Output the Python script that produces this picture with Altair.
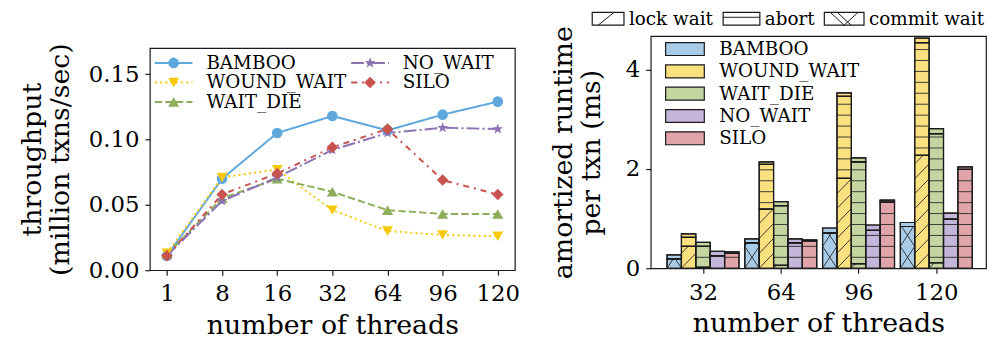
import math
import altair as alt
import pandas as pd

FONT = "DejaVu Serif"

# ---------------- data ----------------
threads = ["1", "8", "16", "32", "64", "96", "120"]
series = ["BAMBOO", "WOUND_WAIT", "WAIT_DIE", "NO_WAIT", "SILO"]
tput_bamboo = [0.011, 0.070, 0.105, 0.118, 0.107, 0.119, 0.129]
tput_wound_wait = [0.013, 0.071, 0.077, 0.046, 0.030, 0.027, 0.026]
tput_wait_die = [0.012, 0.055, 0.070, 0.060, 0.046, 0.043, 0.043]
tput_no_wait = [0.011, 0.053, 0.071, 0.092, 0.105, 0.109, 0.108]
tput_silo = [0.011, 0.058, 0.074, 0.094, 0.108, 0.069, 0.058]

bar_threads = ["32", "64", "96", "120"]
components = ["lock wait", "commit wait", "abort", "other"]
legend_patterns = ["lock wait", "abort", "commit wait"]
# runtime breakdown (ms) per txn
bamboo_lock = [0.0, 0.0, 0.0, 0.0]
bamboo_commit = [0.19, 0.51, 0.71, 0.84]
bamboo_abort = [0.0, 0.0, 0.0, 0.0]
bamboo_other = [0.08, 0.08, 0.10, 0.08]
ww_lock = [0.44, 1.19, 1.81, 2.27]
ww_commit = [0.0, 0.0, 0.0, 0.0]
ww_abort = [0.18, 0.90, 1.65, 2.27]
ww_other = [0.07, 0.05, 0.07, 0.09]
wd_lock = [0.02, 0.06, 0.09, 0.11]
wd_commit = [0.0, 0.0, 0.0, 0.0]
wd_abort = [0.42, 1.20, 2.05, 2.60]
wd_other = [0.08, 0.08, 0.08, 0.10]
nw_lock = [0.0, 0.0, 0.0, 0.0]
nw_commit = [0.0, 0.0, 0.0, 0.0]
nw_abort = [0.25, 0.51, 0.76, 0.99]
nw_other = [0.09, 0.08, 0.11, 0.12]
silo_lock = [0.0, 0.0, 0.0, 0.0]
silo_commit = [0.0, 0.0, 0.0, 0.0]
silo_abort = [0.30, 0.55, 1.33, 1.99]
silo_other = [0.03, 0.02, 0.04, 0.05]

# ---------------- styles ----------------
line_colors = ["#5fa8dc", "#f7c90a", "#8dae5b", "#8c72b3", "#c8534f"]
bar_colors = ["#a8cce8", "#fbe07f", "#c4d5a2", "#c4b5da", "#e1a4a8"]
dashes = [[1, 0], [2, 3.3], [7.4, 3.2], [12.8, 3.2, 2, 3.2], [6, 5, 2, 5]]
STAR = ("M0,-1L0.235,-0.324L0.951,-0.309L0.380,0.124L0.588,0.809L0,0.4"
        "L-0.588,0.809L-0.380,0.124L-0.951,-0.309L-0.235,-0.324Z")
shapes = ["circle", "triangle-down", "triangle-up", STAR, "diamond"]
sizes = [115, 135, 135, 160, 175]

TICK_FS = 23
TITLE_FS = 27
LEG_FS = 18.5

color_l = alt.Scale(domain=series, range=line_colors)
color_b = alt.Scale(domain=series, range=bar_colors)
dash_s = alt.Scale(domain=series, range=dashes)
shape_s = alt.Scale(domain=series, range=shapes)
size_s = alt.Scale(domain=series, range=sizes)

# ---------------- left chart ----------------
tput = {"BAMBOO": tput_bamboo, "WOUND_WAIT": tput_wound_wait, "WAIT_DIE": tput_wait_die,
        "NO_WAIT": tput_no_wait, "SILO": tput_silo}
rows = []
for s in series:
    for t, v in zip(threads, tput[s]):
        rows.append({"series": s, "threads": t, "tput": v})
df_l = pd.DataFrame(rows)

LW, LH = 368, 224
xs_l = alt.Scale(domain=threads, type="point", padding=0.31)
ys_l = alt.Scale(domain=[0, 0.17], nice=False, zero=False)

x_l = alt.X("threads:N", scale=xs_l, sort=threads,
            axis=alt.Axis(title="number of threads", labelAngle=0, labelPadding=8, titlePadding=7))
y_l = alt.Y("tput:Q", scale=ys_l,
            axis=alt.Axis(title=["throughput", "(million txns/sec)"], values=[0, 0.05, 0.10, 0.15],
                          format=".2f", labelPadding=6, titlePadding=14, titleLineHeight=28))

lines = alt.Chart(df_l).mark_line(strokeWidth=2).encode(
    x=x_l, y=y_l,
    color=alt.Color("series:N", scale=color_l, legend=None),
    strokeDash=alt.StrokeDash("series:N", scale=dash_s, legend=None),
    detail="series:N",
)
points = alt.Chart(df_l).mark_point(filled=True, opacity=1).encode(
    x=alt.X("threads:N", scale=xs_l, sort=threads),
    y=alt.Y("tput:Q", scale=ys_l),
    color=alt.Color("series:N", scale=color_l, legend=None),
    shape=alt.Shape("series:N", scale=shape_s, legend=None),
    size=alt.Size("series:N", scale=size_s, legend=None),
)

# in-plot legend (2 columns)
leg_rows = []
for i, s in enumerate(series):
    col, row = i // 3, i % 3
    base = 5 + col * 198
    leg_rows.append({"series": s, "lx1": base, "lx2": base + 38, "mx": base + 19,
                     "tx": base + 52, "ly": 15 + row * 19.7})
df_legl = pd.DataFrame(leg_rows)
leg_line = alt.Chart(df_legl).mark_rule(strokeWidth=2).encode(
    x=alt.X("lx1:Q", scale=None, axis=None), x2="lx2:Q",
    y=alt.Y("ly:Q", scale=None, axis=None),
    color=alt.Color("series:N", scale=color_l, legend=None),
    strokeDash=alt.StrokeDash("series:N", scale=dash_s, legend=None),
)
leg_pt = alt.Chart(df_legl).mark_point(filled=True, opacity=1).encode(
    x=alt.X("mx:Q", scale=None, axis=None), y=alt.Y("ly:Q", scale=None, axis=None),
    color=alt.Color("series:N", scale=color_l, legend=None),
    shape=alt.Shape("series:N", scale=shape_s, legend=None),
    size=alt.Size("series:N", scale=size_s, legend=None),
)
leg_txt = alt.Chart(df_legl).mark_text(align="left", baseline="middle", font=FONT,
                                       fontSize=LEG_FS, color="black").encode(
    x=alt.X("tx:Q", scale=None, axis=None), y=alt.Y("ly:Q", scale=None, axis=None),
    text="series:N",
)
# invisible extent marker fixing the horizontal bounds of the left panel
spacer_l = alt.Chart(df_legl).mark_rule(strokeOpacity=0, opacity=0).encode(
    x=alt.value(-142), x2=alt.value(LW + 30), y=alt.value(0))

left_main = alt.layer(lines, points, leg_line, leg_pt, leg_txt, spacer_l).properties(width=LW, height=LH)
top_gap = alt.Chart(df_legl).mark_rule(strokeOpacity=0, opacity=0).encode(
    x=alt.value(0), y=alt.value(0)).properties(
    width=LW, height=4, view=alt.ViewBackground(stroke="transparent"))
left = alt.vconcat(top_gap, left_main, spacing=0)

# ---------------- right chart ----------------
RW, RH = 338, 234
bar_w = 0.185
breakdown = {
    "BAMBOO": [bamboo_lock, bamboo_commit, bamboo_abort, bamboo_other],
    "WOUND_WAIT": [ww_lock, ww_commit, ww_abort, ww_other],
    "WAIT_DIE": [wd_lock, wd_commit, wd_abort, wd_other],
    "NO_WAIT": [nw_lock, nw_commit, nw_abort, nw_other],
    "SILO": [silo_lock, silo_commit, silo_abort, silo_other],
}


def diag(xl, xr, lo, hi, dy, step, kind):
    out = []
    k = math.floor((lo - dy) / step)
    while k * step < hi:
        yb = k * step
        t0 = max(0.0, (lo - yb) / dy)
        t1 = min(1.0, (hi - yb) / dy)
        if t1 > t0 + 1e-6:
            if kind == "/":
                out.append((xl + t0 * (xr - xl), yb + t0 * dy, xl + t1 * (xr - xl), yb + t1 * dy))
            else:
                out.append((xr - t0 * (xr - xl), yb + t0 * dy, xr - t1 * (xr - xl), yb + t1 * dy))
        k += 1
    return out


segs, hatch = [], []
for g, t in enumerate(bar_threads):
    for si, s in enumerate(series):
        xc = g + (si - 2) * bar_w
        xl, xr = xc - bar_w / 2, xc + bar_w / 2
        y0 = 0.0
        for ci, comp in enumerate(components):
            v = breakdown[s][ci][g]
            if v <= 0:
                continue
            y1 = y0 + v
            segs.append({"series": s, "comp": comp, "xl": xl, "xr": xr, "y0": y0, "y1": y1})
            if comp == "abort":
                k = 1
                while k * 0.22 < y1 - 0.03:
                    yy = k * 0.22
                    if yy > y0 + 0.03:
                        hatch.append({"x": xl, "x2": xr, "y": yy, "y2": yy})
                    k += 1
            elif comp == "lock wait":
                for a, b, c, d in diag(xl, xr, y0, y1, 0.30, 0.30, "/"):
                    hatch.append({"x": a, "x2": c, "y": b, "y2": d})
            elif comp == "commit wait":
                for kind in ["/", "\\"]:
                    for a, b, c, d in diag(xl, xr, y0, y1, 0.44, 0.44, kind):
                        hatch.append({"x": a, "x2": c, "y": b, "y2": d})
            y0 = y1
df_seg = pd.DataFrame(segs)
df_hatch = pd.DataFrame(hatch)

xs_r = alt.Scale(domain=[-0.672, 3.639], nice=False, zero=False)
ys_r = alt.Scale(domain=[0, 4.67], nice=False, zero=False)
label_expr = "[" + ",".join("'%s'" % t for t in bar_threads) + "][datum.value]"

bars = alt.Chart(df_seg).mark_rect(stroke="#1a1a1a", strokeWidth=1.2).encode(
    x=alt.X("xl:Q", scale=xs_r, axis=alt.Axis(title="number of threads", values=[0, 1, 2, 3],
                                                labelExpr=label_expr, labelPadding=9, titlePadding=6)),
    x2="xr:Q",
    y=alt.Y("y0:Q", scale=ys_r, axis=alt.Axis(title=["amortized runtime", "per txn (ms)"],
                                                values=[0, 2, 4], format="d", labelPadding=6,
                                                titlePadding=20, titleLineHeight=28)),
    y2="y1:Q",
    color=alt.Color("series:N", scale=color_b, legend=None),
)
hatch_l = alt.Chart(df_hatch).mark_rule(color="#2a2a2a", strokeWidth=0.9).encode(
    x=alt.X("x:Q", scale=xs_r), x2="x2:Q", y=alt.Y("y:Q", scale=ys_r), y2="y2:Q")
outline = alt.Chart(df_seg).mark_rect(fill="transparent", stroke="#1a1a1a", strokeWidth=1.2).encode(
    x=alt.X("xl:Q", scale=xs_r), x2="xr:Q", y=alt.Y("y0:Q", scale=ys_r), y2="y1:Q")

# inner series legend
df_legr = pd.DataFrame({"series": series,
                        "sx1": [15] * 5, "sx2": [54] * 5, "tx": [69] * 5,
                        "sy": [13 + i * 22.5 for i in range(5)]})
df_legr["sy1"] = df_legr["sy"] - 6.5
df_legr["sy2"] = df_legr["sy"] + 6.5
legr_rect = alt.Chart(df_legr).mark_rect(stroke="#1a1a1a", strokeWidth=1.2).encode(
    x=alt.X("sx1:Q", scale=None, axis=None), x2="sx2:Q",
    y=alt.Y("sy1:Q", scale=None, axis=None), y2="sy2:Q",
    color=alt.Color("series:N", scale=color_b, legend=None))
legr_txt = alt.Chart(df_legr).mark_text(align="left", baseline="middle", font=FONT,
                                        fontSize=LEG_FS, color="black").encode(
    x=alt.X("tx:Q", scale=None, axis=None), y=alt.Y("sy:Q", scale=None, axis=None), text="series:N")

# top pattern legend (above plot)
pat_x = [-59, 73, 175]
pat_w = [32, 37, 40]
df_pat = pd.DataFrame({"name": legend_patterns, "px1": pat_x,
                       "px2": [a + w for a, w in zip(pat_x, pat_w)],
                       "tx": [a + w + 5 for a, w in zip(pat_x, pat_w)]})
df_pat["py1"] = -24
df_pat["py2"] = -11
df_pat["ty"] = -17
pat_rect = alt.Chart(df_pat).mark_rect(fill="white", stroke="#1a1a1a", strokeWidth=1.2).encode(
    x=alt.X("px1:Q", scale=None, axis=None), x2="px2:Q",
    y=alt.Y("py1:Q", scale=None, axis=None), y2="py2:Q")
pat_lines_rows = []
for name, a, w in zip(legend_patterns, pat_x, pat_w):
    if name == "lock wait":
        pat_lines_rows.append({"x": a + 6, "x2": a + 22, "y": -11, "y2": -24})
    elif name == "abort":
        pat_lines_rows.append({"x": a, "x2": a + w, "y": -19, "y2": -19})
    else:
        pat_lines_rows.append({"x": a + 6, "x2": a + 20, "y": -24, "y2": -11})
        pat_lines_rows.append({"x": a + 20, "x2": a + 34, "y": -11, "y2": -24})
        pat_lines_rows.append({"x": a + 13, "x2": a + 27, "y": -24, "y2": -11})
df_patl = pd.DataFrame(pat_lines_rows)
pat_line = alt.Chart(df_patl).mark_rule(color="#1a1a1a", strokeWidth=1).encode(
    x=alt.X("x:Q", scale=None, axis=None), x2="x2:Q",
    y=alt.Y("y:Q", scale=None, axis=None), y2="y2:Q")
pat_txt = alt.Chart(df_pat).mark_text(align="left", baseline="middle", font=FONT,
                                      fontSize=LEG_FS, color="black").encode(
    x=alt.X("tx:Q", scale=None, axis=None), y=alt.Y("ty:Q", scale=None, axis=None), text="name:N")
spacer_r = alt.Chart(df_pat).mark_rule(strokeOpacity=0, opacity=0).encode(
    x=alt.value(-105), x2=alt.value(0), y=alt.value(-26))

right = alt.layer(bars, hatch_l, outline, legr_rect, legr_txt, pat_rect, pat_line, pat_txt,
                  spacer_r).properties(width=RW, height=RH)

chart = alt.hconcat(left, right, spacing=0).resolve_scale(
    color="independent"
).properties(
    padding={"left": 0, "top": 0, "right": 0, "bottom": 0}
).configure(font=FONT).configure_view(
    stroke="#1a1a1a", strokeWidth=1.2
).configure_axis(
    labelFont=FONT, titleFont=FONT, labelFontSize=TICK_FS, titleFontSize=TITLE_FS,
    titleFontWeight="normal", labelColor="black", titleColor="black",
    domain=False, tickColor="#1a1a1a", tickSize=5, tickWidth=1.2, grid=False,
).configure_concat(spacing=0)

chart.save("out.html", embed_options={"renderer": "svg", "actions": False})
